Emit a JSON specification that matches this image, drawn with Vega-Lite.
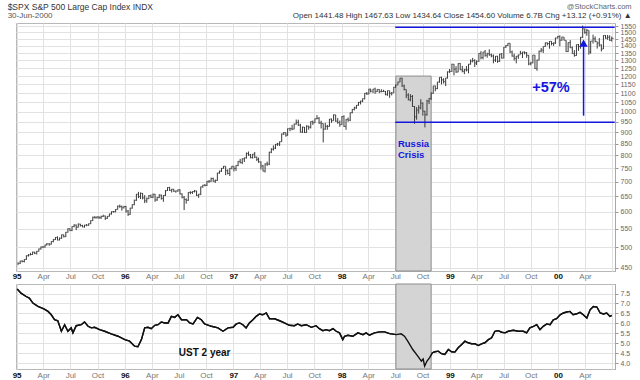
{
  "$schema": "https://vega.github.io/schema/vega-lite/v6.json",
  "background": "white",
  "padding": {"left": 7, "top": 2, "right": 0, "bottom": 0},
  "config": {
    "font": "Liberation Sans",
    "view": {"stroke": "#b8b8b8", "strokeWidth": 1},
    "axis": {"labelOverlap": false}
  },
  "title": {
    "text": "$SPX S&P 500 Large Cap Index INDX",
    "subtitle": "30-Jun-2000",
    "anchor": "start",
    "frame": "bounds",
    "fontSize": 8.5,
    "fontWeight": "normal",
    "color": "#333",
    "subtitleFontSize": 8,
    "subtitleColor": "#555",
    "subtitlePadding": 1,
    "offset": -18,
    "dx": -4
  },
  "spacing": 2,
  "datasets": {
    "zone": [{"d": "1998-07-03", "d2": "1998-10-30", "v": 1200}],
    "levels": [
      {"d": "1998-07-01", "d2": "2000-07-10", "v": 1540},
      {"d": "1998-07-01", "d2": "2000-07-10", "v": 948}
    ],
    "arrow": [{"d": "2000-03-27", "v": 980, "v2": 1420}],
    "px": [
      {"d":"1995-01-06","l":457,"h":463,"c":461},
      {"d":"1995-01-13","l":459,"h":467,"c":466},
      {"d":"1995-01-20","l":463,"h":468,"c":465},
      {"d":"1995-01-27","l":463,"h":471,"c":470},
      {"d":"1995-02-03","l":469,"h":480,"c":479},
      {"d":"1995-02-10","l":477,"h":483,"c":481},
      {"d":"1995-02-17","l":480,"h":486,"c":482},
      {"d":"1995-02-24","l":481,"h":489,"c":488},
      {"d":"1995-03-03","l":483,"h":489,"c":485},
      {"d":"1995-03-10","l":482,"h":491,"c":490},
      {"d":"1995-03-17","l":489,"h":497,"c":496},
      {"d":"1995-03-24","l":494,"h":502,"c":501},
      {"d":"1995-03-31","l":498,"h":503,"c":501},
      {"d":"1995-04-07","l":499,"h":507,"c":506},
      {"d":"1995-04-13","l":505,"h":511,"c":509},
      {"d":"1995-04-21","l":504,"h":511,"c":508},
      {"d":"1995-04-28","l":507,"h":516,"c":515},
      {"d":"1995-05-05","l":513,"h":522,"c":520},
      {"d":"1995-05-12","l":519,"h":527,"c":526},
      {"d":"1995-05-19","l":518,"h":529,"c":519},
      {"d":"1995-05-26","l":518,"h":526,"c":524},
      {"d":"1995-06-02","l":522,"h":534,"c":533},
      {"d":"1995-06-09","l":526,"h":534,"c":528},
      {"d":"1995-06-16","l":527,"h":541,"c":540},
      {"d":"1995-06-23","l":539,"h":551,"c":550},
      {"d":"1995-06-30","l":543,"h":551,"c":545},
      {"d":"1995-07-07","l":543,"h":557,"c":556},
      {"d":"1995-07-14","l":554,"h":563,"c":560},
      {"d":"1995-07-21","l":546,"h":562,"c":554},
      {"d":"1995-07-28","l":553,"h":565,"c":563},
      {"d":"1995-08-04","l":556,"h":564,"c":559},
      {"d":"1995-08-11","l":554,"h":561,"c":555},
      {"d":"1995-08-18","l":553,"h":561,"c":560},
      {"d":"1995-08-25","l":557,"h":563,"c":560},
      {"d":"1995-09-01","l":558,"h":565,"c":564},
      {"d":"1995-09-08","l":563,"h":574,"c":573},
      {"d":"1995-09-15","l":572,"h":585,"c":583},
      {"d":"1995-09-22","l":579,"h":587,"c":582},
      {"d":"1995-09-29","l":579,"h":586,"c":584},
      {"d":"1995-10-06","l":578,"h":586,"c":582},
      {"d":"1995-10-13","l":578,"h":588,"c":585},
      {"d":"1995-10-20","l":584,"h":591,"c":587},
      {"d":"1995-10-27","l":575,"h":588,"c":580},
      {"d":"1995-11-03","l":578,"h":587,"c":586},
      {"d":"1995-11-10","l":585,"h":594,"c":593},
      {"d":"1995-11-17","l":591,"h":601,"c":600},
      {"d":"1995-11-24","l":597,"h":602,"c":600},
      {"d":"1995-12-01","l":598,"h":608,"c":607},
      {"d":"1995-12-08","l":606,"h":619,"c":617},
      {"d":"1995-12-15","l":612,"h":622,"c":616},
      {"d":"1995-12-22","l":603,"h":619,"c":612},
      {"d":"1995-12-29","l":610,"h":618,"c":616},
      {"d":"1996-01-05","l":597,"h":618,"c":602},
      {"d":"1996-01-12","l":587,"h":605,"c":592},
      {"d":"1996-01-19","l":590,"h":612,"c":611},
      {"d":"1996-01-26","l":609,"h":623,"c":622},
      {"d":"1996-02-02","l":620,"h":638,"c":636},
      {"d":"1996-02-09","l":634,"h":657,"c":656},
      {"d":"1996-02-16","l":643,"h":664,"c":648},
      {"d":"1996-02-23","l":640,"h":662,"c":659},
      {"d":"1996-03-01","l":639,"h":660,"c":644},
      {"d":"1996-03-08","l":627,"h":653,"c":634},
      {"d":"1996-03-15","l":628,"h":645,"c":641},
      {"d":"1996-03-22","l":640,"h":653,"c":651},
      {"d":"1996-03-29","l":643,"h":655,"c":646},
      {"d":"1996-04-05","l":643,"h":658,"c":656},
      {"d":"1996-04-12","l":631,"h":657,"c":637},
      {"d":"1996-04-19","l":634,"h":647,"c":645},
      {"d":"1996-04-26","l":643,"h":656,"c":653},
      {"d":"1996-05-03","l":638,"h":655,"c":642},
      {"d":"1996-05-10","l":631,"h":653,"c":652},
      {"d":"1996-05-17","l":650,"h":670,"c":668},
      {"d":"1996-05-24","l":667,"h":680,"c":679},
      {"d":"1996-05-31","l":667,"h":681,"c":669},
      {"d":"1996-06-07","l":662,"h":674,"c":673},
      {"d":"1996-06-14","l":664,"h":674,"c":666},
      {"d":"1996-06-21","l":661,"h":668,"c":667},
      {"d":"1996-06-28","l":664,"h":672,"c":671},
      {"d":"1996-07-05","l":655,"h":673,"c":657},
      {"d":"1996-07-12","l":642,"h":659,"c":646},
      {"d":"1996-07-19","l":605,"h":650,"c":639},
      {"d":"1996-07-26","l":625,"h":642,"c":636},
      {"d":"1996-08-02","l":634,"h":663,"c":662},
      {"d":"1996-08-09","l":656,"h":666,"c":662},
      {"d":"1996-08-16","l":657,"h":666,"c":665},
      {"d":"1996-08-23","l":662,"h":670,"c":667},
      {"d":"1996-08-30","l":650,"h":668,"c":652},
      {"d":"1996-09-06","l":644,"h":657,"c":656},
      {"d":"1996-09-13","l":653,"h":682,"c":681},
      {"d":"1996-09-20","l":678,"h":688,"c":687},
      {"d":"1996-09-27","l":683,"h":691,"c":686},
      {"d":"1996-10-04","l":684,"h":702,"c":701},
      {"d":"1996-10-11","l":695,"h":705,"c":701},
      {"d":"1996-10-18","l":699,"h":714,"c":711},
      {"d":"1996-10-25","l":699,"h":714,"c":701},
      {"d":"1996-11-01","l":695,"h":707,"c":704},
      {"d":"1996-11-08","l":702,"h":732,"c":731},
      {"d":"1996-11-15","l":728,"h":740,"c":738},
      {"d":"1996-11-22","l":735,"h":750,"c":749},
      {"d":"1996-11-29","l":747,"h":758,"c":757},
      {"d":"1996-12-06","l":723,"h":757,"c":740},
      {"d":"1996-12-13","l":726,"h":745,"c":729},
      {"d":"1996-12-20","l":720,"h":750,"c":749},
      {"d":"1996-12-27","l":745,"h":758,"c":757},
      {"d":"1997-01-03","l":737,"h":757,"c":748},
      {"d":"1997-01-10","l":739,"h":761,"c":760},
      {"d":"1997-01-17","l":757,"h":777,"c":776},
      {"d":"1997-01-24","l":768,"h":786,"c":771},
      {"d":"1997-01-31","l":765,"h":788,"c":786},
      {"d":"1997-02-07","l":773,"h":791,"c":790},
      {"d":"1997-02-14","l":787,"h":812,"c":808},
      {"d":"1997-02-21","l":798,"h":816,"c":802},
      {"d":"1997-02-28","l":788,"h":806,"c":791},
      {"d":"1997-03-07","l":787,"h":806,"c":805},
      {"d":"1997-03-14","l":789,"h":814,"c":793},
      {"d":"1997-03-21","l":777,"h":795,"c":784},
      {"d":"1997-03-27","l":770,"h":791,"c":774},
      {"d":"1997-04-04","l":744,"h":776,"c":758},
      {"d":"1997-04-11","l":737,"h":762,"c":738},
      {"d":"1997-04-18","l":733,"h":768,"c":766},
      {"d":"1997-04-25","l":758,"h":775,"c":765},
      {"d":"1997-05-02","l":761,"h":815,"c":813},
      {"d":"1997-05-09","l":809,"h":830,"c":825},
      {"d":"1997-05-16","l":820,"h":842,"c":830},
      {"d":"1997-05-23","l":826,"h":848,"c":847},
      {"d":"1997-05-30","l":840,"h":853,"c":848},
      {"d":"1997-06-06","l":839,"h":859,"c":858},
      {"d":"1997-06-13","l":857,"h":894,"c":893},
      {"d":"1997-06-20","l":888,"h":901,"c":899},
      {"d":"1997-06-27","l":880,"h":899,"c":887},
      {"d":"1997-07-03","l":885,"h":918,"c":917},
      {"d":"1997-07-11","l":905,"h":922,"c":917},
      {"d":"1997-07-18","l":910,"h":935,"c":915},
      {"d":"1997-07-25","l":914,"h":941,"c":939},
      {"d":"1997-08-01","l":936,"h":961,"c":947},
      {"d":"1997-08-08","l":930,"h":960,"c":934},
      {"d":"1997-08-15","l":899,"h":940,"c":901},
      {"d":"1997-08-22","l":897,"h":927,"c":924},
      {"d":"1997-08-29","l":897,"h":925,"c":899},
      {"d":"1997-09-05","l":898,"h":933,"c":929},
      {"d":"1997-09-12","l":912,"h":931,"c":924},
      {"d":"1997-09-19","l":918,"h":952,"c":951},
      {"d":"1997-09-26","l":935,"h":956,"c":945},
      {"d":"1997-10-03","l":944,"h":966,"c":965},
      {"d":"1997-10-10","l":962,"h":983,"c":967},
      {"d":"1997-10-17","l":940,"h":973,"c":944},
      {"d":"1997-10-24","l":918,"h":955,"c":942},
      {"d":"1997-10-31","l":855,"h":942,"c":915},
      {"d":"1997-11-07","l":912,"h":945,"c":928},
      {"d":"1997-11-14","l":912,"h":935,"c":928},
      {"d":"1997-11-21","l":926,"h":964,"c":963},
      {"d":"1997-11-28","l":945,"h":966,"c":955},
      {"d":"1997-12-05","l":955,"h":986,"c":984},
      {"d":"1997-12-12","l":950,"h":985,"c":953},
      {"d":"1997-12-19","l":940,"h":968,"c":947},
      {"d":"1997-12-26","l":926,"h":956,"c":936},
      {"d":"1998-01-02","l":935,"h":978,"c":975},
      {"d":"1998-01-09","l":925,"h":982,"c":928},
      {"d":"1998-01-16","l":912,"h":963,"c":962},
      {"d":"1998-01-23","l":950,"h":971,"c":958},
      {"d":"1998-01-30","l":953,"h":996,"c":995},
      {"d":"1998-02-06","l":992,"h":1014,"c":1012},
      {"d":"1998-02-13","l":1007,"h":1026,"c":1020},
      {"d":"1998-02-20","l":1015,"h":1035,"c":1034},
      {"d":"1998-02-27","l":1031,"h":1051,"c":1049},
      {"d":"1998-03-06","l":1038,"h":1058,"c":1056},
      {"d":"1998-03-13","l":1050,"h":1070,"c":1069},
      {"d":"1998-03-20","l":1065,"h":1100,"c":1099},
      {"d":"1998-03-27","l":1090,"h":1106,"c":1095},
      {"d":"1998-04-03","l":1093,"h":1124,"c":1123},
      {"d":"1998-04-09","l":1104,"h":1124,"c":1111},
      {"d":"1998-04-17","l":1100,"h":1124,"c":1123},
      {"d":"1998-04-24","l":1096,"h":1131,"c":1108},
      {"d":"1998-05-01","l":1106,"h":1122,"c":1121},
      {"d":"1998-05-08","l":1100,"h":1122,"c":1108},
      {"d":"1998-05-15","l":1105,"h":1122,"c":1109},
      {"d":"1998-05-22","l":1106,"h":1119,"c":1110},
      {"d":"1998-05-29","l":1088,"h":1112,"c":1091},
      {"d":"1998-06-05","l":1085,"h":1115,"c":1114},
      {"d":"1998-06-12","l":1074,"h":1114,"c":1099},
      {"d":"1998-06-19","l":1087,"h":1106,"c":1101},
      {"d":"1998-06-26","l":1100,"h":1136,"c":1133},
      {"d":"1998-07-02","l":1131,"h":1149,"c":1146},
      {"d":"1998-07-10","l":1145,"h":1166,"c":1164},
      {"d":"1998-07-17","l":1163,"h":1189,"c":1187},
      {"d":"1998-07-24","l":1135,"h":1190,"c":1141},
      {"d":"1998-07-31","l":1115,"h":1149,"c":1121},
      {"d":"1998-08-07","l":1072,"h":1121,"c":1089},
      {"d":"1998-08-14","l":1060,"h":1099,"c":1063},
      {"d":"1998-08-21","l":1055,"h":1094,"c":1081},
      {"d":"1998-08-28","l":1025,"h":1089,"c":1027},
      {"d":"1998-09-04","l":940,"h":1030,"c":974},
      {"d":"1998-09-11","l":960,"h":1024,"c":1009},
      {"d":"1998-09-18","l":990,"h":1034,"c":1020},
      {"d":"1998-09-25","l":1012,"h":1066,"c":1045},
      {"d":"1998-10-02","l":980,"h":1049,"c":1003},
      {"d":"1998-10-09","l":923,"h":1005,"c":985},
      {"d":"1998-10-16","l":980,"h":1063,"c":1056},
      {"d":"1998-10-23","l":1040,"h":1072,"c":1071},
      {"d":"1998-10-30","l":1062,"h":1104,"c":1099},
      {"d":"1998-11-06","l":1096,"h":1142,"c":1141},
      {"d":"1998-11-13","l":1110,"h":1143,"c":1126},
      {"d":"1998-11-20","l":1122,"h":1165,"c":1164},
      {"d":"1998-11-27","l":1160,"h":1193,"c":1192},
      {"d":"1998-12-04","l":1150,"h":1196,"c":1177},
      {"d":"1998-12-11","l":1155,"h":1187,"c":1166},
      {"d":"1998-12-18","l":1140,"h":1189,"c":1188},
      {"d":"1998-12-24","l":1185,"h":1229,"c":1226},
      {"d":"1998-12-31","l":1220,"h":1244,"c":1229},
      {"d":"1999-01-08","l":1225,"h":1278,"c":1275},
      {"d":"1999-01-15","l":1204,"h":1276,"c":1243},
      {"d":"1999-01-22","l":1220,"h":1262,"c":1225},
      {"d":"1999-01-29","l":1223,"h":1281,"c":1280},
      {"d":"1999-02-05","l":1237,"h":1283,"c":1239},
      {"d":"1999-02-12","l":1223,"h":1264,"c":1230},
      {"d":"1999-02-19","l":1212,"h":1245,"c":1239},
      {"d":"1999-02-26","l":1229,"h":1263,"c":1238},
      {"d":"1999-03-05","l":1217,"h":1277,"c":1275},
      {"d":"1999-03-12","l":1272,"h":1307,"c":1295},
      {"d":"1999-03-19","l":1287,"h":1317,"c":1299},
      {"d":"1999-03-26","l":1257,"h":1308,"c":1283},
      {"d":"1999-04-01","l":1270,"h":1300,"c":1294},
      {"d":"1999-04-09","l":1290,"h":1349,"c":1348},
      {"d":"1999-04-16","l":1307,"h":1363,"c":1319},
      {"d":"1999-04-23","l":1307,"h":1358,"c":1357},
      {"d":"1999-04-30","l":1325,"h":1371,"c":1335},
      {"d":"1999-05-07","l":1318,"h":1352,"c":1345},
      {"d":"1999-05-14","l":1331,"h":1376,"c":1338},
      {"d":"1999-05-21","l":1321,"h":1346,"c":1330},
      {"d":"1999-05-28","l":1281,"h":1340,"c":1302},
      {"d":"1999-06-04","l":1290,"h":1330,"c":1328},
      {"d":"1999-06-11","l":1284,"h":1331,"c":1294},
      {"d":"1999-06-18","l":1290,"h":1345,"c":1343},
      {"d":"1999-06-25","l":1312,"h":1350,"c":1315},
      {"d":"1999-07-02","l":1315,"h":1392,"c":1391},
      {"d":"1999-07-09","l":1385,"h":1406,"c":1403},
      {"d":"1999-07-16","l":1399,"h":1421,"c":1419},
      {"d":"1999-07-23","l":1350,"h":1420,"c":1357},
      {"d":"1999-07-30","l":1325,"h":1367,"c":1329},
      {"d":"1999-08-06","l":1299,"h":1346,"c":1314},
      {"d":"1999-08-13","l":1281,"h":1330,"c":1328},
      {"d":"1999-08-20","l":1310,"h":1340,"c":1337},
      {"d":"1999-08-27","l":1340,"h":1365,"c":1348},
      {"d":"1999-09-03","l":1316,"h":1358,"c":1357},
      {"d":"1999-09-10","l":1341,"h":1361,"c":1352},
      {"d":"1999-09-17","l":1318,"h":1357,"c":1335},
      {"d":"1999-09-24","l":1268,"h":1337,"c":1277},
      {"d":"1999-10-01","l":1268,"h":1291,"c":1283},
      {"d":"1999-10-08","l":1281,"h":1337,"c":1336},
      {"d":"1999-10-15","l":1245,"h":1336,"c":1247},
      {"d":"1999-10-22","l":1233,"h":1305,"c":1302},
      {"d":"1999-10-29","l":1300,"h":1367,"c":1363},
      {"d":"1999-11-05","l":1355,"h":1385,"c":1370},
      {"d":"1999-11-12","l":1350,"h":1397,"c":1396},
      {"d":"1999-11-19","l":1393,"h":1425,"c":1422},
      {"d":"1999-11-26","l":1404,"h":1425,"c":1417},
      {"d":"1999-12-03","l":1380,"h":1435,"c":1433},
      {"d":"1999-12-10","l":1404,"h":1434,"c":1417},
      {"d":"1999-12-17","l":1400,"h":1425,"c":1421},
      {"d":"1999-12-23","l":1414,"h":1460,"c":1458},
      {"d":"1999-12-31","l":1453,"h":1474,"c":1469},
      {"d":"2000-01-07","l":1397,"h":1478,"c":1441},
      {"d":"2000-01-14","l":1438,"h":1467,"c":1465},
      {"d":"2000-01-21","l":1440,"h":1465,"c":1441},
      {"d":"2000-01-28","l":1357,"h":1442,"c":1360},
      {"d":"2000-02-04","l":1357,"h":1426,"c":1424},
      {"d":"2000-02-11","l":1385,"h":1442,"c":1387},
      {"d":"2000-02-18","l":1345,"h":1396,"c":1346},
      {"d":"2000-02-25","l":1325,"h":1370,"c":1333},
      {"d":"2000-03-03","l":1331,"h":1410,"c":1409},
      {"d":"2000-03-10","l":1365,"h":1414,"c":1395},
      {"d":"2000-03-17","l":1380,"h":1465,"c":1464},
      {"d":"2000-03-24","l":1457,"h":1553,"c":1527},
      {"d":"2000-03-31","l":1490,"h":1530,"c":1499},
      {"d":"2000-04-07","l":1475,"h":1528,"c":1516},
      {"d":"2000-04-14","l":1339,"h":1516,"c":1357},
      {"d":"2000-04-20","l":1346,"h":1436,"c":1435},
      {"d":"2000-04-28","l":1417,"h":1483,"c":1452},
      {"d":"2000-05-05","l":1427,"h":1469,"c":1433},
      {"d":"2000-05-12","l":1381,"h":1431,"c":1421},
      {"d":"2000-05-19","l":1396,"h":1457,"c":1407},
      {"d":"2000-05-26","l":1361,"h":1411,"c":1378},
      {"d":"2000-06-02","l":1378,"h":1478,"c":1477},
      {"d":"2000-06-09","l":1452,"h":1480,"c":1457},
      {"d":"2000-06-16","l":1445,"h":1481,"c":1464},
      {"d":"2000-06-23","l":1437,"h":1478,"c":1441},
      {"d":"2000-06-30","l":1432,"h":1468,"c":1455}
    ],
    "ust": [
      {"d":"1995-01-03","y":7.73},{"d":"1995-01-16","y":7.52},{"d":"1995-02-02","y":7.35},{"d":"1995-02-13","y":7.27},
      {"d":"1995-02-25","y":7.02},{"d":"1995-03-14","y":6.85},{"d":"1995-04-03","y":6.73},{"d":"1995-04-17","y":6.6},
      {"d":"1995-04-28","y":6.43},{"d":"1995-05-09","y":6.18},{"d":"1995-05-20","y":6.13},{"d":"1995-06-01","y":5.6},
      {"d":"1995-06-12","y":5.93},{"d":"1995-06-23","y":5.6},{"d":"1995-07-04","y":5.77},{"d":"1995-07-10","y":5.52},
      {"d":"1995-07-21","y":5.88},{"d":"1995-08-07","y":5.93},{"d":"1995-08-18","y":6.07},{"d":"1995-08-30","y":5.85},
      {"d":"1995-09-10","y":5.77},{"d":"1995-09-21","y":5.8},{"d":"1995-10-08","y":5.68},{"d":"1995-10-25","y":5.6},
      {"d":"1995-11-16","y":5.47},{"d":"1995-12-09","y":5.35},{"d":"1996-01-01","y":5.18},{"d":"1996-01-17","y":5.1},
      {"d":"1996-02-03","y":4.85},{"d":"1996-02-14","y":4.82},{"d":"1996-02-26","y":5.18},{"d":"1996-03-08","y":5.77},
      {"d":"1996-03-19","y":5.8},{"d":"1996-03-30","y":5.73},{"d":"1996-04-11","y":5.9},{"d":"1996-04-22","y":5.93},
      {"d":"1996-05-03","y":6.07},{"d":"1996-05-14","y":6.02},{"d":"1996-05-26","y":6.02},{"d":"1996-06-06","y":6.35},
      {"d":"1996-06-17","y":6.3},{"d":"1996-06-28","y":6.43},{"d":"1996-07-10","y":6.18},{"d":"1996-07-27","y":6.18},
      {"d":"1996-08-07","y":6.02},{"d":"1996-08-18","y":5.97},{"d":"1996-09-02","y":6.3},{"d":"1996-09-15","y":6.18},
      {"d":"1996-09-26","y":5.97},{"d":"1996-10-19","y":5.85},{"d":"1996-11-10","y":5.77},{"d":"1996-11-27","y":5.6},
      {"d":"1996-12-14","y":5.77},{"d":"1996-12-31","y":5.8},{"d":"1997-01-11","y":5.97},{"d":"1997-01-22","y":6.02},
      {"d":"1997-02-02","y":5.93},{"d":"1997-02-13","y":5.77},{"d":"1997-02-24","y":6.02},{"d":"1997-03-08","y":6.18},
      {"d":"1997-03-19","y":6.35},{"d":"1997-03-30","y":6.47},{"d":"1997-04-10","y":6.43},{"d":"1997-04-22","y":6.52},
      {"d":"1997-05-03","y":6.23},{"d":"1997-05-20","y":6.23},{"d":"1997-06-06","y":6.13},{"d":"1997-06-22","y":6.02},
      {"d":"1997-07-09","y":5.9},{"d":"1997-07-26","y":5.88},{"d":"1997-08-06","y":5.97},{"d":"1997-08-18","y":5.88},
      {"d":"1997-09-04","y":5.93},{"d":"1997-09-21","y":5.8},{"d":"1997-10-07","y":5.88},{"d":"1997-10-18","y":5.73},
      {"d":"1997-10-30","y":5.63},{"d":"1997-11-10","y":5.68},{"d":"1997-11-21","y":5.63},{"d":"1997-12-03","y":5.73},
      {"d":"1997-12-14","y":5.6},{"d":"1997-12-25","y":5.52},{"d":"1998-01-05","y":5.18},{"d":"1998-01-11","y":5.35},
      {"d":"1998-01-22","y":5.4},{"d":"1998-02-08","y":5.35},{"d":"1998-02-25","y":5.52},{"d":"1998-03-14","y":5.43},
      {"d":"1998-03-25","y":5.52},{"d":"1998-04-05","y":5.4},{"d":"1998-04-22","y":5.52},{"d":"1998-05-09","y":5.57},
      {"d":"1998-05-26","y":5.57},{"d":"1998-06-12","y":5.48},{"d":"1998-07-04","y":5.43},{"d":"1998-07-21","y":5.47},
      {"d":"1998-08-01","y":5.35},{"d":"1998-08-12","y":5.1},{"d":"1998-08-29","y":4.68},{"d":"1998-09-15","y":4.35},
      {"d":"1998-09-27","y":4.1},{"d":"1998-10-03","y":4.2},{"d":"1998-10-08","y":3.85},{"d":"1998-10-16","y":4.1},
      {"d":"1998-10-25","y":4.27},{"d":"1998-11-03","y":4.52},{"d":"1998-11-12","y":4.57},{"d":"1998-11-23","y":4.6},
      {"d":"1998-12-04","y":4.47},{"d":"1998-12-15","y":4.43},{"d":"1998-12-27","y":4.68},{"d":"1999-01-07","y":4.57},
      {"d":"1999-01-18","y":4.55},{"d":"1999-01-29","y":4.77},{"d":"1999-02-10","y":4.93},{"d":"1999-02-21","y":5.1},
      {"d":"1999-03-04","y":5.02},{"d":"1999-03-15","y":4.97},{"d":"1999-03-27","y":4.97},{"d":"1999-04-07","y":4.88},
      {"d":"1999-04-18","y":4.97},{"d":"1999-04-29","y":5.02},{"d":"1999-05-11","y":5.18},{"d":"1999-05-22","y":5.27},
      {"d":"1999-06-02","y":5.6},{"d":"1999-06-13","y":5.63},{"d":"1999-06-25","y":5.55},{"d":"1999-07-06","y":5.52},
      {"d":"1999-07-17","y":5.6},{"d":"1999-08-03","y":5.65},{"d":"1999-08-20","y":5.6},{"d":"1999-09-06","y":5.6},
      {"d":"1999-09-17","y":5.52},{"d":"1999-09-28","y":5.77},{"d":"1999-10-10","y":5.85},{"d":"1999-10-21","y":5.93},
      {"d":"1999-11-01","y":5.68},{"d":"1999-11-12","y":5.85},{"d":"1999-11-24","y":5.97},{"d":"1999-12-05","y":5.93},
      {"d":"1999-12-16","y":6.18},{"d":"1999-12-27","y":6.23},{"d":"2000-01-08","y":6.43},{"d":"2000-01-19","y":6.52},
      {"d":"2000-01-30","y":6.57},{"d":"2000-02-10","y":6.6},{"d":"2000-02-21","y":6.43},{"d":"2000-03-04","y":6.48},
      {"d":"2000-03-15","y":6.55},{"d":"2000-03-26","y":6.43},{"d":"2000-04-07","y":6.27},{"d":"2000-04-18","y":6.68},
      {"d":"2000-04-29","y":6.85},{"d":"2000-05-11","y":6.82},{"d":"2000-05-22","y":6.52},{"d":"2000-06-02","y":6.47},
      {"d":"2000-06-13","y":6.52},{"d":"2000-06-24","y":6.35},{"d":"2000-06-30","y":6.4}
    ]
  },
  "vconcat": [
    {
      "width": 599,
      "height": 248,
      "title": {
        "text": "@StockCharts.com",
        "subtitle": "Open 1441.48  High 1467.63  Low 1434.64  Close 1454.60  Volume 6.7B  Chg +13.12 (+0.91%) ▲",
        "anchor": "end",
        "frame": "bounds",
        "fontSize": 7.5,
        "fontWeight": "normal",
        "color": "#666",
        "subtitleFontSize": 8,
        "subtitleColor": "#333",
        "subtitlePadding": 2,
        "offset": 2,
        "dx": -4
      },
      "layer": [
        {
          "data": {"name": "zone"},
          "mark": {"type": "rect", "fill": "#d4d4d4", "stroke": "#8c8c8c", "strokeWidth": 1},
          "encoding": {
            "x": {"field": "d", "type": "temporal", "title": null,
              "scale": {"domain": [{"year": 1994, "month": 12, "date": 30}, {"year": 2000, "month": 7, "date": 11}], "nice": false},
              "axis": {"title": null, "tickCount": {"interval": "month", "step": 3},
                "labelExpr": "year(datum.value) == 2000 && month(datum.value) >= 6 ? '' : (month(datum.value) == 0 ? timeFormat(datum.value, '%y') : timeFormat(datum.value, '%b'))",
                "labelFontWeight": {"condition": {"test": "month(datum.value) == 0", "value": "bold"}, "value": "normal"},
                "labelColor": {"condition": {"test": "month(datum.value) == 0", "value": "#111"}, "value": "#777"},
                "labelFontSize": 8, "labelPadding": 1, "ticks": false, "domain": false,
                "grid": true, "gridColor": "#e2e2e2", "labelFlush": false, "labelOverlap": false, "labelBound": false}},
            "x2": {"field": "d2"},
            "y": {"field": "v", "type": "quantitative", "title": null,
              "scale": {"type": "log", "domain": [443, 1574], "nice": false, "zero": false},
              "axis": {"title": null, "orient": "right",
                "values": [450, 500, 550, 600, 650, 700, 750, 800, 850, 900, 950, 1000, 1050, 1100, 1150, 1200, 1250, 1300, 1350, 1400, 1450, 1500, 1550],
                "format": "d", "labelFontSize": 7, "labelColor": "#666", "tickSize": 3, "tickColor": "#999",
                "labelPadding": 2, "domain": true, "domainColor": "#999", "domainDash": [1, 1],
                "labelOverlap": false, "labelBound": false,
                "grid": true, "gridColor": "#e2e2e2"}},
            "y2": {"datum": 443}
          }
        },
        {
          "data": {"name": "px"},
          "mark": {"type": "rule", "color": "#3a3a3a", "strokeWidth": 1},
          "encoding": {
            "x": {"field": "d", "type": "temporal"},
            "y": {"field": "l", "type": "quantitative"},
            "y2": {"field": "h"}
          }
        },
        {
          "data": {"name": "px"},
          "mark": {"type": "tick", "orient": "horizontal", "color": "#3a3a3a", "size": 2, "thickness": 1, "xOffset": 1},
          "encoding": {
            "x": {"field": "d", "type": "temporal"},
            "y": {"field": "c", "type": "quantitative"}
          }
        },
        {
          "data": {"name": "levels"},
          "mark": {"type": "rule", "color": "#1515e0", "strokeWidth": 1.5},
          "encoding": {
            "x": {"field": "d", "type": "temporal"},
            "x2": {"field": "d2"},
            "y": {"field": "v", "type": "quantitative"}
          }
        },
        {
          "data": {"name": "arrow"},
          "mark": {"type": "rule", "color": "#1515e0", "strokeWidth": 1.5},
          "encoding": {
            "x": {"field": "d", "type": "temporal"},
            "y": {"field": "v", "type": "quantitative"},
            "y2": {"field": "v2"}
          }
        },
        {
          "data": {"name": "arrow"},
          "mark": {"type": "point", "shape": "triangle-up", "filled": true, "color": "#1515e0", "size": 70, "opacity": 1},
          "encoding": {
            "x": {"field": "d", "type": "temporal"},
            "y": {"field": "v2", "type": "quantitative"}
          }
        },
        {
          "data": {"values": [{"d": "1999-12-08", "v": 1131, "label": "+57%"}]},
          "mark": {"type": "text", "color": "#1515e0", "fontSize": 14.5, "fontWeight": "bold", "align": "center", "baseline": "middle"},
          "encoding": {
            "x": {"field": "d", "type": "temporal"},
            "y": {"field": "v", "type": "quantitative"},
            "text": {"field": "label"}
          }
        },
        {
          "data": {"values": [{"d": "1998-07-10", "v": 850, "label": "Russia Crisis"}]},
          "mark": {"type": "text", "color": "#1515e0", "fontSize": 9.5, "fontWeight": "bold", "align": "left", "baseline": "middle", "lineBreak": " ", "lineHeight": 11},
          "encoding": {
            "x": {"field": "d", "type": "temporal"},
            "y": {"field": "v", "type": "quantitative"},
            "text": {"field": "label"}
          }
        }
      ]
    },
    {
      "width": 599,
      "height": 85,
      "layer": [
        {
          "data": {"name": "ust"},
          "mark": {"type": "line", "color": "#111", "strokeWidth": 1.4},
          "encoding": {
            "x": {"field": "d", "type": "temporal", "title": null,
              "scale": {"domain": [{"year": 1994, "month": 12, "date": 30}, {"year": 2000, "month": 7, "date": 11}], "nice": false},
              "axis": {"title": null, "tickCount": {"interval": "month", "step": 3},
                "labelExpr": "year(datum.value) == 2000 && month(datum.value) >= 6 ? '' : (month(datum.value) == 0 ? timeFormat(datum.value, '%y') : timeFormat(datum.value, '%b'))",
                "labelFontWeight": {"condition": {"test": "month(datum.value) == 0", "value": "bold"}, "value": "normal"},
                "labelColor": {"condition": {"test": "month(datum.value) == 0", "value": "#111"}, "value": "#777"},
                "labelFontSize": 8, "labelPadding": 2, "ticks": false, "domain": false,
                "grid": true, "gridColor": "#e2e2e2", "labelFlush": false, "labelOverlap": false, "labelBound": false}},
            "y": {"field": "y", "type": "quantitative", "title": null,
              "scale": {"domain": [3.7, 7.98], "nice": false, "zero": false},
              "axis": {"title": null, "orient": "right", "tickCount": 9, "tickMinStep": 0.5, "format": ".1f",
                "labelFontSize": 7, "labelColor": "#666", "tickSize": 3, "tickColor": "#999",
                "labelPadding": 2, "domain": true, "domainColor": "#999", "domainDash": [1, 1],
                "labelOverlap": false, "labelBound": false, "labelFlush": false,
                "grid": true, "gridColor": "#e2e2e2"}}
          }
        },
        {
          "data": {"name": "zone"},
          "mark": {"type": "rect", "fill": "#d4d4d4", "stroke": "#8c8c8c", "strokeWidth": 1},
          "encoding": {
            "x": {"field": "d", "type": "temporal"},
            "x2": {"field": "d2"},
            "y": {"datum": 7.98, "type": "quantitative"},
            "y2": {"datum": 3.7}
          }
        },
        {
          "data": {"name": "ust"},
          "mark": {"type": "line", "color": "#111", "strokeWidth": 1.4},
          "encoding": {
            "x": {"field": "d", "type": "temporal"},
            "y": {"field": "y", "type": "quantitative"}
          }
        },
        {
          "data": {"values": [{"d": "1996-07-01", "y": 4.5, "label": "UST 2 year"}]},
          "mark": {"type": "text", "color": "#111", "fontSize": 10, "fontWeight": "bold", "align": "left", "baseline": "middle"},
          "encoding": {
            "x": {"field": "d", "type": "temporal"},
            "y": {"field": "y", "type": "quantitative"},
            "text": {"field": "label"}
          }
        }
      ]
    }
  ]
}
